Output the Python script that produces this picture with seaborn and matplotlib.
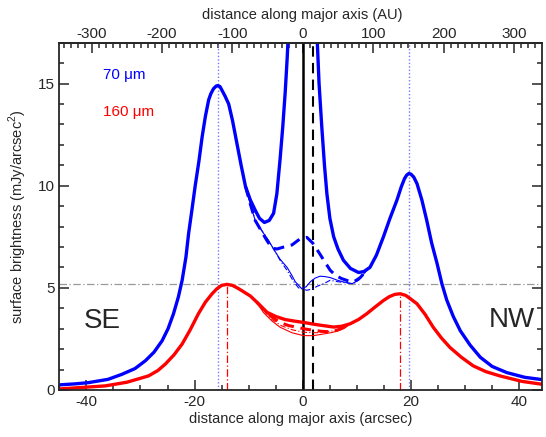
import numpy as np
import matplotlib
matplotlib.use("Agg")
import matplotlib.pyplot as plt
import seaborn as sns
from matplotlib.ticker import MultipleLocator, FixedLocator

# 70 um profile (total, thick)
x70 = [-45, -42, -39.6, -36, -33.4, -31, -29.1, -27.5, -26.0, -24.9, -23.9, -23.0, -22.3,
       -21.6, -21.1, -20.5, -19.9, -19.2, -18.6, -18.0, -17.4, -17.0, -16.5, -16.0, -15.7,
       -15.3, -14.9, -14.4, -13.7, -13.0, -12.2, -11.4, -10.6, -9.7, -8.8, -8.0, -7.1,
       -6.2, -5.4, -4.8, -4.2, -3.7, -3.25, -2.9, -2.2, 2.2, 3.0, 3.5, 4.0, 4.45, 5.0,
       5.7, 6.5, 7.5, 8.8, 10.3, 11.3, 12.4, 13.6, 14.9, 16.1, 17.4, 18.2, 18.8, 19.2,
       19.6, 20.0, 20.5, 21.1, 22.0, 22.9, 23.8, 24.8, 25.7, 26.6, 27.8, 29.1, 30.9,
       32.8, 35.0, 37.7, 41.0, 45.0]
y70 = [0.25, 0.3, 0.36, 0.52, 0.77, 1.05, 1.43, 1.85, 2.41, 3.0, 3.73, 4.55, 5.37,
       6.5, 7.67, 8.8, 9.97, 11.2, 12.4, 13.4, 14.2, 14.5, 14.75, 14.88, 14.9,
       14.85, 14.65, 14.4, 14.0, 13.2, 12.1, 11.0, 9.97, 9.3, 8.8, 8.4, 8.2,
       8.3, 8.65, 9.6, 11.3, 12.9, 14.6, 16.2, 20, 20, 15.0, 12.9, 11.0, 9.6, 8.4,
       7.5, 6.9, 6.35, 5.95, 5.75, 5.8, 6.0, 6.6, 7.5, 8.4, 9.3, 9.95, 10.35, 10.52,
       10.6, 10.56, 10.42, 10.1, 9.3, 8.3, 7.2, 6.2, 5.2, 4.4, 3.6, 2.9, 2.2,
       1.6, 1.15, 0.85, 0.62, 0.48]

# 70 um, dashed model (thick)
x70_dash = [-10.6, -9.7, -8.8, -7.6, -6.6, -5.7, -4.8, -3.5, -2.0, -0.5, 0.75, 1.8, 2.9,
            4.0, 5.06, 6.1, 7.2, 8.3, 9.4, 10.6, 11.8]
y70_dash = [9.97, 9.1, 8.3, 7.75, 7.3, 6.95, 6.9, 7.0, 7.1, 7.4, 7.47, 7.2, 6.76,
            6.3, 5.86, 5.6, 5.45, 5.35, 5.29, 5.5, 5.86]

# 70 um, thin solid
x70_thin = [-10.6, -9.7, -8.8, -7.6, -6.3, -5.4, -4.2, -2.9, -2.0, -1.4, -0.2, 0.6, 1.4,
            2.3, 3.2, 4.1, 5.1, 6.3, 7.5, 9.1, 10.4, 11.8]
y70_thin = [9.97, 9.1, 8.3, 7.8, 7.3, 6.9, 6.4, 6.0, 5.6, 5.3, 4.96, 5.05, 5.3,
            5.48, 5.57, 5.55, 5.5, 5.38, 5.29, 5.2, 5.4, 5.86]

# 70 um, thin dash-dot
x70_dd = [-10.6, -8.8, -6.3, -4.2, -2.9, -1.8, -0.8, 0.75, 1.8, 2.6, 3.8, 5.06, 6.5,
          8.1, 9.4, 10.4, 11.8]
y70_dd = [9.97, 8.3, 7.3, 6.35, 5.85, 5.35, 5.0, 4.88, 4.95, 5.07, 5.2, 5.37, 5.3,
          5.24, 5.2, 5.4, 5.86]

# 160 um profile (total, thick)
x160 = [-45, -41, -36.5, -32.5, -28.5, -26.8, -25.4, -23.8, -22.3, -20.8, -19.3, -18.0,
        -16.8, -15.9, -15.0, -14.0, -13.0, -12.0, -11.2, -9.7, -8.5, -7.55, -6.6, -5.0,
        -3.3, -1.5, 0.3, 2.0, 3.8, 5.7, 7.2, 8.75, 10.3, 11.8, 13.3, 14.9, 16.0, 17.0,
        18.0, 19.0, 19.8, 21.1, 22.6, 24.1, 25.6, 27.2, 29.3, 31.5, 33.8, 36.4, 40.5, 45]
y160 = [0.05, 0.12, 0.2, 0.38, 0.69, 0.95, 1.27, 1.72, 2.25, 2.95, 3.73, 4.3,
        4.7, 4.95, 5.12, 5.17, 5.12, 4.98, 4.85, 4.6, 4.3, 4.05, 3.8, 3.6,
        3.45, 3.37, 3.3, 3.22, 3.15, 3.08, 3.12, 3.24, 3.45, 3.73, 4.05, 4.38, 4.57, 4.68,
        4.71, 4.63, 4.48, 4.22, 3.7, 3.07, 2.55, 2.08, 1.6, 1.18, 0.9, 0.69, 0.42, 0.25]

# 160 um, dashed model (thick)
x160_dash = [-8.5, -7.0, -5.6, -4.2, -2.6, -1.1, 0.5, 2.0, 3.5, 5.06, 6.3, 7.5, 8.75]
y160_dash = [4.3, 3.85, 3.55, 3.3, 3.15, 3.07, 2.98, 2.92, 2.87, 2.85, 2.92, 3.05, 3.24]

# 160 um, thin solid
x160_thin = [-8.5, -7.3, -5.8, -4.2, -2.0, 0.13, 2.0, 3.8, 5.5, 6.9, 8.0, 8.75]
y160_thin = [4.3, 3.8, 3.4, 3.07, 2.8, 2.66, 2.66, 2.74, 2.82, 2.93, 3.08, 3.24]

# 160 um, thin dash-dot
x160_dd = [-8.5, -6.0, -4.0, -2.0, 0.0, 2.0, 4.0, 6.0, 8.0, 8.75]
y160_dd = [4.3, 3.5, 3.15, 2.95, 2.83, 2.8, 2.82, 2.92, 3.1, 3.24]

# peak positions / reference levels
peaks70 = [-15.7, 19.6]
peaks160 = [-14.0, 17.9]
peak160_vals = [5.17, 4.71]
star_x = 0.0
offset_x = 1.9
ref_level = 5.2
AU_PER_ARCSEC = 7.69
au_ticks = [-300, -200, -100, 0, 100, 200, 300]

sns.set_style("ticks")
plt.rcParams['font.family'] = ['Liberation Sans', 'DejaVu Sans']
plt.rcParams['mathtext.fontset'] = 'custom'
plt.rcParams['mathtext.rm'] = 'Liberation Sans'
plt.rcParams['axes.unicode_minus'] = False

fig = plt.figure(figsize=(5.46, 4.37), dpi=100)
ax = fig.add_axes([0.1086, 0.1076, 0.8841, 0.7947])

blue = '#0000ff'
red = '#ff0000'

# reference lines
ax.axhline(ref_level, color='#999999', lw=0.9, ls=(0, (6, 2, 1, 2)), zorder=1)
for xp in peaks70:
    ax.axvline(xp, color='#7777ff', lw=1.0, ls=(0, (1, 1.5)), zorder=1)
for xp, yp in zip(peaks160, peak160_vals):
    ax.plot([xp, xp], [0, yp], color=red, lw=0.9, ls=(0, (6, 2, 1, 2)), zorder=1)
ax.axvline(star_x, color='black', lw=1.8, zorder=2)
ax.axvline(offset_x, color='black', lw=1.5, ls=(0, (5, 3)), zorder=2)

kw = dict(ax=ax, sort=False, estimator=None, legend=False)
sns.lineplot(x=x70_thin, y=y70_thin, color=blue, lw=0.8, **kw)
sns.lineplot(x=x70_dd, y=y70_dd, color=blue, lw=0.8, linestyle=(0, (5, 2, 1, 2)), **kw)
sns.lineplot(x=x70_dash, y=y70_dash, color=blue, lw=2.2, linestyle=(0, (3.5, 2.2)), **kw)
sns.lineplot(x=x70, y=y70, color=blue, lw=2.4, **kw)

sns.lineplot(x=x160_thin, y=y160_thin, color=red, lw=0.8, **kw)
sns.lineplot(x=x160_dd, y=y160_dd, color=red, lw=0.8, linestyle=(0, (5, 2, 1, 2)), **kw)
sns.lineplot(x=x160_dash, y=y160_dash, color=red, lw=2.2, linestyle=(0, (3.5, 2.2)), **kw)
sns.lineplot(x=x160, y=y160, color=red, lw=2.4, **kw)

ax.set_xlim(-45, 44.2)
ax.set_ylim(0, 17)

ax.xaxis.set_major_locator(MultipleLocator(20))
ax.xaxis.set_minor_locator(MultipleLocator(5))
ax.yaxis.set_major_locator(MultipleLocator(5))
ax.yaxis.set_minor_locator(MultipleLocator(1))
ax.tick_params(which='both', direction='in', right=True, top=False, labelsize=11, width=1.1)
ax.tick_params(which='major', length=7)
ax.tick_params(which='minor', length=3.5)
for sp in ax.spines.values():
    sp.set_linewidth(1.3)

sec = ax.secondary_xaxis('top', functions=(lambda v: v * AU_PER_ARCSEC,
                                           lambda v: v / AU_PER_ARCSEC))
sec.xaxis.set_major_locator(FixedLocator(au_ticks))
sec.xaxis.set_minor_locator(MultipleLocator(10))
sec.tick_params(which='both', direction='in', labelsize=11, width=1.1, pad=1)
sec.tick_params(which='major', length=7)
sec.tick_params(which='minor', length=3.5)
sec.spines['top'].set_linewidth(1.3)

fig.text(0.553, 0.966, 'distance along major axis (AU)', fontsize=10.5,
         ha='center', va='center')
ax.set_xlabel('distance along major axis (arcsec)', fontsize=10.5, labelpad=2)
ax.set_ylabel('surface brightness (mJy/arcsec$^2$)', fontsize=10.5, labelpad=6)

ax.text(-36.9, 15.4, '70 μm', color=blue, fontsize=11, va='center', ha='left')
ax.text(-36.9, 13.6, '160 μm', color=red, fontsize=11, va='center', ha='left')
ax.text(-37.1, 3.4, 'SE', fontsize=20, va='center', ha='center')
ax.text(38.7, 3.45, 'NW', fontsize=20, va='center', ha='center')

fig.savefig('out.png', dpi=100)
